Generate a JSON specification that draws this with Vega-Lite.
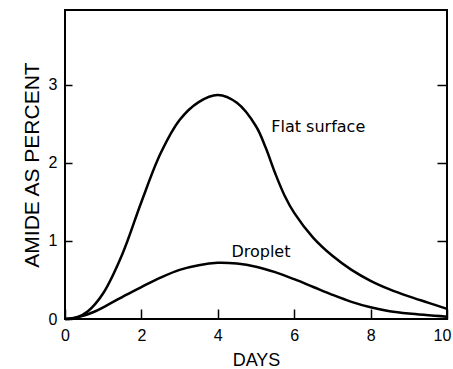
{
  "$schema": "https://vega.github.io/schema/vega-lite/v6.json",
  "width": 382,
  "height": 309,
  "autosize": {"type": "none"},
  "padding": {"left": 65, "top": 10, "right": 6, "bottom": 50},
  "background": "white",
  "config": {
    "view": {"stroke": "black", "strokeWidth": 2},
    "font": "Liberation Sans",
    "axis": {
      "domain": false,
      "grid": false,
      "ticks": true,
      "tickColor": "black",
      "tickWidth": 1.5,
      "labelColor": "black",
      "labelFontSize": 16,
      "labelFlush": false,
      "labelOverlap": false,
      "titleColor": "black",
      "titleFontWeight": "normal"
    }
  },
  "datasets": {
    "curves": [
      {"series": "Flat surface", "day": 0, "value": 0},
      {"series": "Flat surface", "day": 0.3, "value": 0.02},
      {"series": "Flat surface", "day": 0.6, "value": 0.1},
      {"series": "Flat surface", "day": 1.0, "value": 0.33},
      {"series": "Flat surface", "day": 1.5, "value": 0.83},
      {"series": "Flat surface", "day": 2.0, "value": 1.5},
      {"series": "Flat surface", "day": 2.5, "value": 2.12},
      {"series": "Flat surface", "day": 3.0, "value": 2.55},
      {"series": "Flat surface", "day": 3.5, "value": 2.78},
      {"series": "Flat surface", "day": 4.0, "value": 2.87},
      {"series": "Flat surface", "day": 4.5, "value": 2.77},
      {"series": "Flat surface", "day": 5.0, "value": 2.47},
      {"series": "Flat surface", "day": 5.25, "value": 2.2},
      {"series": "Flat surface", "day": 5.5, "value": 1.87},
      {"series": "Flat surface", "day": 5.75, "value": 1.58},
      {"series": "Flat surface", "day": 6.0, "value": 1.36},
      {"series": "Flat surface", "day": 6.5, "value": 1.04},
      {"series": "Flat surface", "day": 7.0, "value": 0.81},
      {"series": "Flat surface", "day": 7.5, "value": 0.63},
      {"series": "Flat surface", "day": 8.0, "value": 0.49},
      {"series": "Flat surface", "day": 8.5, "value": 0.38},
      {"series": "Flat surface", "day": 9.0, "value": 0.29},
      {"series": "Flat surface", "day": 9.5, "value": 0.21},
      {"series": "Flat surface", "day": 10.0, "value": 0.13},
      {"series": "Droplet", "day": 0, "value": 0},
      {"series": "Droplet", "day": 0.4, "value": 0.03},
      {"series": "Droplet", "day": 0.75, "value": 0.09},
      {"series": "Droplet", "day": 1.0, "value": 0.15},
      {"series": "Droplet", "day": 1.6, "value": 0.31},
      {"series": "Droplet", "day": 2.0, "value": 0.41},
      {"series": "Droplet", "day": 2.5, "value": 0.53},
      {"series": "Droplet", "day": 3.0, "value": 0.63},
      {"series": "Droplet", "day": 3.5, "value": 0.69},
      {"series": "Droplet", "day": 4.0, "value": 0.72},
      {"series": "Droplet", "day": 4.5, "value": 0.71},
      {"series": "Droplet", "day": 5.0, "value": 0.67},
      {"series": "Droplet", "day": 5.5, "value": 0.6},
      {"series": "Droplet", "day": 6.0, "value": 0.51},
      {"series": "Droplet", "day": 6.5, "value": 0.41},
      {"series": "Droplet", "day": 7.0, "value": 0.31},
      {"series": "Droplet", "day": 7.5, "value": 0.22},
      {"series": "Droplet", "day": 8.0, "value": 0.15},
      {"series": "Droplet", "day": 8.5, "value": 0.1},
      {"series": "Droplet", "day": 9.0, "value": 0.07},
      {"series": "Droplet", "day": 10.0, "value": 0.03}
    ],
    "labels": [
      {"label": "Flat surface", "day": 6.63, "value": 2.46},
      {"label": "Droplet", "day": 5.13, "value": 0.86}
    ]
  },
  "layer": [
    {
      "data": {"name": "curves"},
      "mark": {"type": "line", "interpolate": "catmull-rom", "color": "black", "strokeWidth": 2.5},
      "encoding": {
        "x": {
          "field": "day", "type": "quantitative",
          "scale": {"domain": [0, 10], "nice": false},
          "axis": {"title": "DAYS", "titleFontSize": 18, "values": [0, 2, 4, 6, 8, 10], "offset": -10, "tickSize": 10, "labelPadding": 8, "titlePadding": 8,
            "labelOffset": {"expr": "datum.value == 10 ? -5 : 0"}}
        },
        "y": {
          "field": "value", "type": "quantitative",
          "scale": {"domain": [0, 3.96], "nice": false},
          "axis": {"title": "AMIDE AS PERCENT", "titleFontSize": 21, "values": [0, 1, 2, 3], "offset": -7, "tickSize": 7, "labelPadding": 8, "titlePadding": 6}
        },
        "detail": {"field": "series"}
      }
    },
    {
      "data": {"name": "labels"},
      "mark": {"type": "text", "font": "DejaVu Sans", "fontSize": 16, "color": "black"},
      "encoding": {
        "x": {"field": "day", "type": "quantitative"},
        "y": {
          "field": "value", "type": "quantitative",
          "axis": {"orient": "right", "title": null, "labels": false, "values": [1, 2, 3], "offset": -10, "tickSize": 10}
        },
        "text": {"field": "label"}
      }
    }
  ],
  "resolve": {"axis": {"y": "independent"}}
}
